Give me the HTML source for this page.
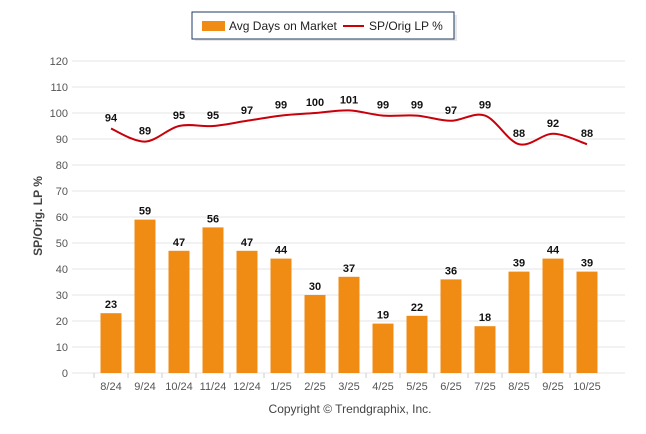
<!DOCTYPE html>
<html><head><meta charset="utf-8"><style>
body{margin:0;background:#fff;font-family:"Liberation Sans",Arial,sans-serif}
svg{display:block}
</style></head><body>
<svg width="646" height="434">
<g>
<rect x="195" y="15" width="262" height="26" fill="#e8e8e8"/>
<rect x="192" y="12" width="262" height="27" fill="#fff" stroke="#1f3864" stroke-width="1"/>
<rect x="202" y="21" width="23" height="10" fill="#f08c14"/>
<text x="229" y="30" font-size="12" fill="#222">Avg Days on Market</text>
<line x1="343" y1="26" x2="364" y2="26" stroke="#c00" stroke-width="2"/>
<text x="369" y="30" font-size="12" fill="#222">SP/Orig LP %</text>
</g>
<g id="grid"></g>
<g id="bars"></g>
<g id="line"></g>
<text transform="translate(42,216) rotate(-90)" text-anchor="middle" font-size="12" font-weight="bold" fill="#444">SP/Orig. LP %</text>
<text x="350" y="413" text-anchor="middle" font-size="12" fill="#444">Copyright © Trendgraphix, Inc.</text>
</svg>
<script>
const categories=["8/24","9/24","10/24","11/24","12/24","1/25","2/25","3/25","4/25","5/25","6/25","7/25","8/25","9/25","10/25"];
const daysOnMarket=[23,59,47,56,47,44,30,37,19,22,36,18,39,44,39];
const spOrigLp=[94,89,95,95,97,99,100,101,99,99,97,99,88,92,88];
const yTicks=[0,10,20,30,40,50,60,70,80,90,100,110,120];
const NS="http://www.w3.org/2000/svg";
const y=v=>373-v*2.6;
const x=i=>111+i*34;
function mk(t,a,p){const e=document.createElementNS(NS,t);for(const k in a)e.setAttribute(k,a[k]);p.appendChild(e);return e;}
const g=document.getElementById('grid'),b=document.getElementById('bars'),l=document.getElementById('line');
yTicks.forEach(v=>{
 const ln=mk('line',{x1:72,x2:625,y1:y(v),y2:y(v),stroke:'#e6e6e6','stroke-width':1},g);
 
 
 const t=mk('text',{x:68,y:y(v)+4,'text-anchor':'end','font-size':11,fill:'#555'},g);t.textContent=v;
 
 
});
categories.forEach((c,i)=>{
 const tk=mk('line',{x1:x(i)-17,x2:x(i)-17,y1:373,y2:378,stroke:'#ccc'},g);
 
 
 const t=mk('text',{x:x(i),y:390,'text-anchor':'middle','font-size':11,fill:'#555'},g);t.textContent=c;
 
 
 const r=mk('rect',{x:x(i)-10.5,y:y(daysOnMarket[i]),width:21,height:373-y(daysOnMarket[i]),fill:'#f08c14'},b);
 
 
 const bl=mk('text',{x:x(i),y:y(daysOnMarket[i])-5,'text-anchor':'middle','font-size':11,'font-weight':'bold',fill:'#111'},b);bl.textContent=daysOnMarket[i];
 
 
 const ll=mk('text',{x:x(i),y:y(spOrigLp[i])-7,'text-anchor':'middle','font-size':11,'font-weight':'bold',fill:'#111'},l);ll.textContent=spOrigLp[i];
 
 
});
let pts=spOrigLp.map((v,i)=>[x(i),y(v)]);
let d='M'+pts[0].join(',');
for(let i=0;i<pts.length-1;i++){
 const p0=pts[i-1]||pts[i],p1=pts[i],p2=pts[i+1],p3=pts[i+2]||p2;
 const c1=[p1[0]+(p2[0]-p0[0])/6,p1[1]+(p2[1]-p0[1])/6],c2=[p2[0]-(p3[0]-p1[0])/6,p2[1]-(p3[1]-p1[1])/6];
 d+=' C'+c1+' '+c2+' '+p2;
}
const path=mk('path',{d:d,fill:'none',stroke:'#c8000a','stroke-width':2},l);


</script>
</body></html>
